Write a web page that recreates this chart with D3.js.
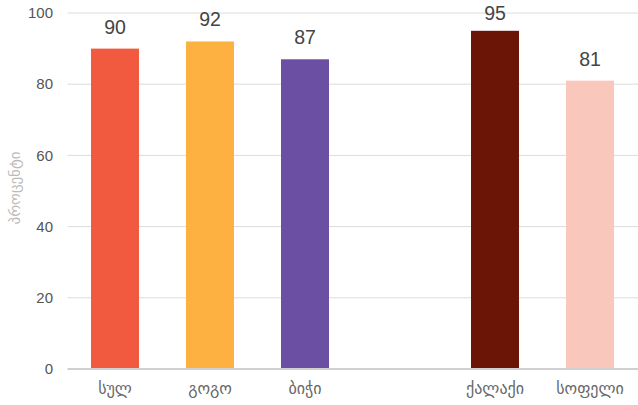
<!DOCTYPE html>
<html><head><meta charset="utf-8">
<script src="https://cdn.jsdelivr.net/npm/d3@7"></script>
<style>body{margin:0;background:#fff}svg{display:block}</style>
</head><body>
<svg id="c" width="638" height="405"></svg>
<script>
const categories = ["სულ","გოგო","ბიჭი","","ქალაქი","სოფელი"];
const values = [90, 92, 87, null, 95, 81];
const colors = ["#f25a40","#fdb140","#6a4fa2",null,"#6b1507","#f9c7bc"];
const yTicks = [0,20,40,60,80,100];
const yTitle = "პროცენტი";

const svg = d3.select("#c");
const m = {l:67.5, r:638, t:13, b:369};
const x = d3.scaleBand().domain(d3.range(categories.length)).range([m.l, 637.5]).paddingInner(0.495).paddingOuter(0.2475);
const y = d3.scaleLinear().domain([0,100]).range([m.b, m.t]);
const font = "'Liberation Sans', 'DejaVu Sans', sans-serif";

svg.append("g").selectAll("line").data(yTicks.filter(d=>d>0)).join("line")
  .attr("x1", m.l).attr("x2", m.r).attr("y1", d=>y(d)).attr("y2", d=>y(d))
  .attr("stroke", "#dcdcdc").attr("stroke-width", 1);

svg.append("g").selectAll("text").data(yTicks).join("text")
  .attr("x", 53).attr("y", d=>y(d)).attr("dy","0.35em").attr("text-anchor","end")
  .attr("font-family", font).attr("font-size", 15).attr("fill","#555").text(d=>d);

const data = categories.map((c,i)=>({i, c, v:values[i], col:colors[i]}));
const bars = data.filter(d=>d.v!=null);
svg.append("g").selectAll("rect").data(bars).join("rect")
  .attr("x", d=>x(d.i)).attr("width", x.bandwidth())
  .attr("y", d=>y(d.v)).attr("height", d=>y(0)-y(d.v)).attr("fill", d=>d.col);

svg.append("g").selectAll("text").data(bars).join("text")
  .attr("x", d=>x(d.i)+x.bandwidth()/2).attr("y", d=>Math.max(y(d.v)-15, 20))
  .attr("text-anchor","middle").attr("font-family", font).attr("font-size", 19.5)
  .attr("fill","#444").text(d=>d.v);

svg.append("line").attr("x1", m.l).attr("x2", m.r).attr("y1", y(0)).attr("y2", y(0))
  .attr("stroke","#d0d0d0").attr("stroke-width",2);

svg.append("g").selectAll("text").data(data).join("text")
  .attr("x", d=>x(d.i)+x.bandwidth()/2).attr("y", 394)
  .attr("text-anchor","middle").attr("font-family", "'DejaVu Sans', sans-serif").attr("font-size", 16)
  .attr("fill","#666").text(d=>d.c);

svg.append("text").attr("transform", `translate(20,188) rotate(-90)`)
  .attr("text-anchor","middle").attr("font-family","'DejaVu Sans', sans-serif").attr("font-size", 15)
  .attr("fill","#bbb").text(yTitle);
</script>
</body></html>
